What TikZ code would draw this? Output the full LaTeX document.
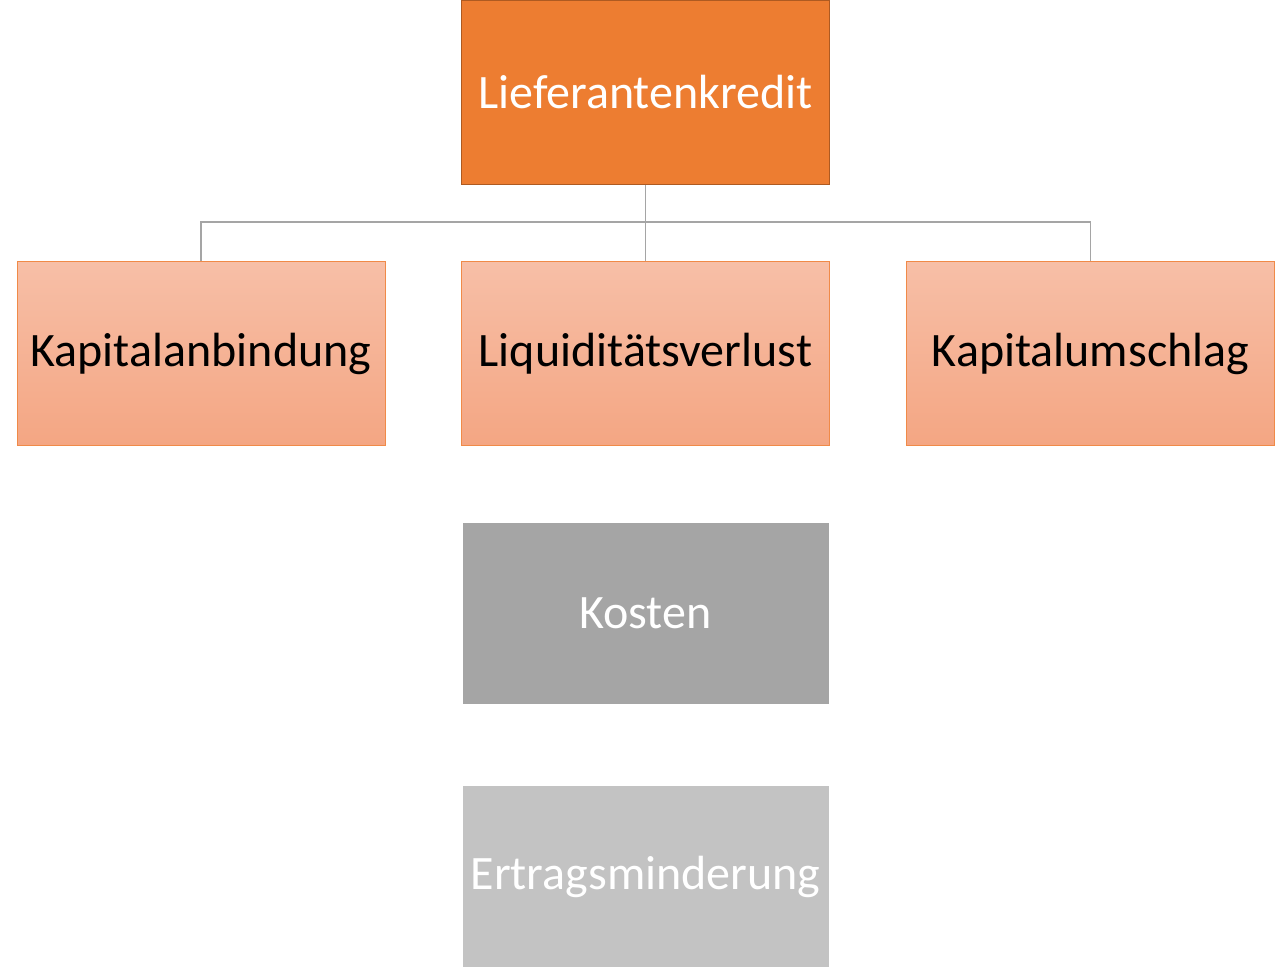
\documentclass[tikz,border=0pt]{standalone}
\usepackage{fontspec}
\setmainfont{Carlito}
\definecolor{topfill}{HTML}{ED7D31}
\definecolor{topline}{HTML}{AE5A21}
\definecolor{subtop}{HTML}{F7BFA7}
\definecolor{subbot}{HTML}{F4A683}
\definecolor{subline}{HTML}{F08A48}
\definecolor{grayA}{HTML}{A5A5A5}
\definecolor{grayB}{HTML}{C3C3C3}
\begin{document}
\begin{tikzpicture}[x=1pt,y=-1pt,
    box/.style={rectangle,minimum width=368pt,minimum height=184pt,
      inner sep=0pt,line width=1pt,font=\fontsize{48}{58}\selectfont},
    mainbox/.style={box,draw=topline,fill=topfill,text=white},
    subbox/.style={box,draw=subline,top color=subtop,bottom color=subbot,text=black},
    graybox/.style={box,minimum width=366pt,minimum height=181pt,text=white},
    conn/.style={draw=grayA,line width=1.8pt}]
      \useasboundingbox (0,0) rectangle (1280,970);
      \node[mainbox] (kredit) at (645.5,92.5) {Lieferantenkredit};
      \node[subbox] (bindung) at (201,353.5) {Kapitalanbindung};
      \node[subbox] (verlust) at (645.5,353.5) {Liquiditätsverlust};
      \node[subbox] (umschlag) at (1090.5,353.5) {Kapitalumschlag};
      \node[graybox,fill=grayA] (kosten) at (645.5,613.5) {Kosten};
      \node[graybox,fill=grayB] (ertrag) at (645.5,876.5) {Ertragsminderung};
      \coordinate (bus) at (645.5,222);
      \draw[conn] (kredit.south) -- (bus) -| (bindung.north);
      \draw[conn] (bus) -- (verlust.north);
      \draw[conn] (bus) -| (umschlag.north);
    \end{tikzpicture}
\end{document}
